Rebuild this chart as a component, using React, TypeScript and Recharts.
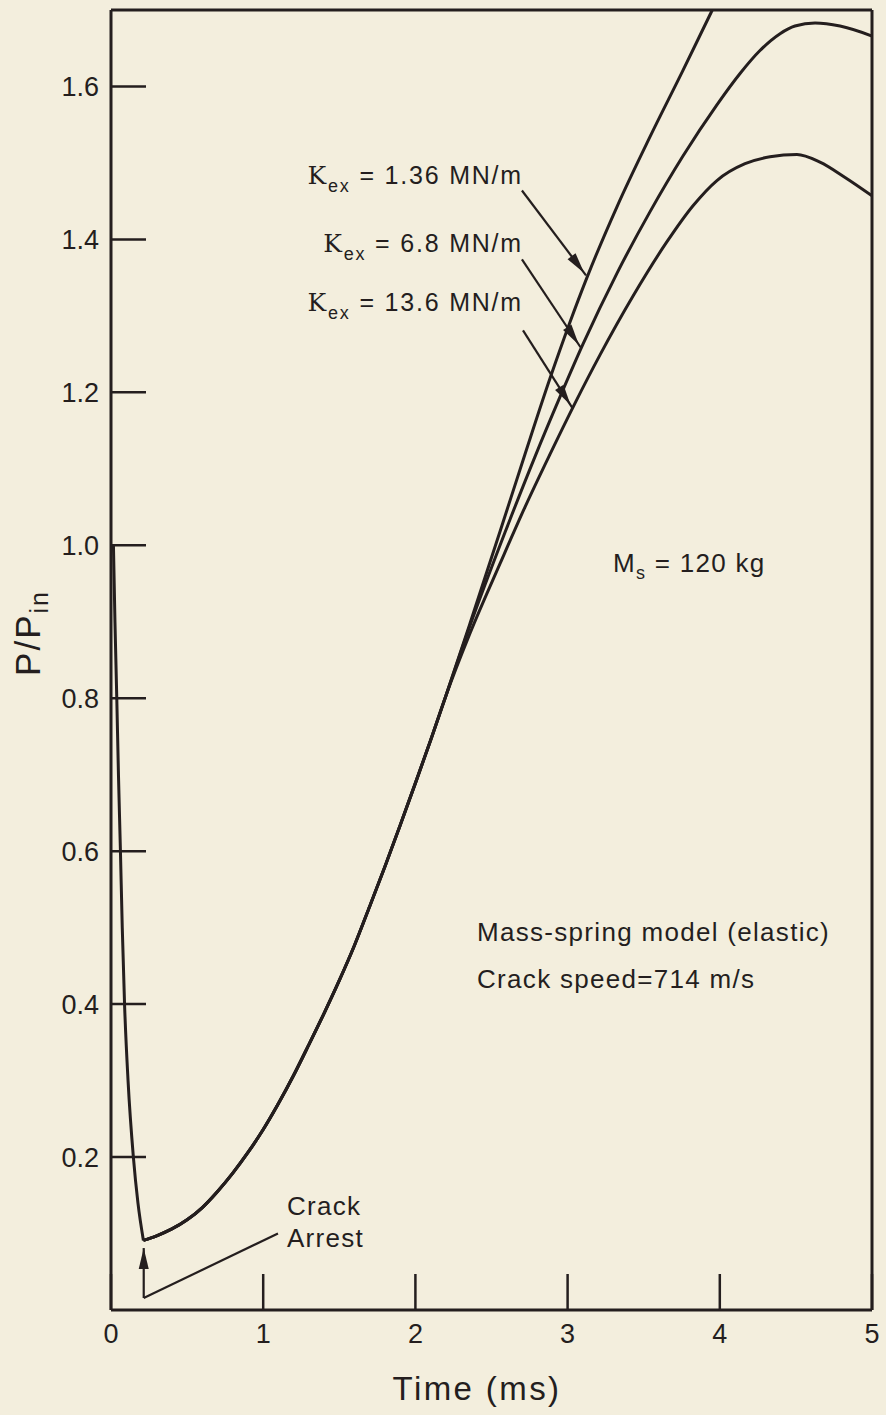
import React from 'react';
import { LineChart, Line, XAxis, YAxis, ReferenceLine, ReferenceDot } from 'recharts';

const INK = '#241e1e';
const PAPER = '#f3eedd';
const FONT = '"Liberation Sans", Arial, Helvetica, sans-serif';
const K_FONT = '"DejaVu Serif", "Liberation Serif", serif';

// ---- axis ticks ----
const xTicks = [0, 1, 2, 3, 4, 5];
const xInnerTicks = [1, 2, 3, 4];
const yTicks = [0.2, 0.4, 0.6, 0.8, 1.0, 1.2, 1.4, 1.6];

// ---- data (time in ms, P/Pin) ----
const dropPhase = [
  { t: 0.016, p: 1.0 },
  { t: 0.026, p: 0.9 },
  { t: 0.038, p: 0.8 },
  { t: 0.049, p: 0.7 },
  { t: 0.062, p: 0.6 },
  { t: 0.074, p: 0.5 },
  { t: 0.089, p: 0.4 },
  { t: 0.112, p: 0.3 },
  { t: 0.147, p: 0.2 },
  { t: 0.177, p: 0.14 },
  { t: 0.213, p: 0.091 },
];

const commonRise = [
  { t: 0.213, p: 0.091 },
  { t: 0.3, p: 0.097 },
  { t: 0.4, p: 0.106 },
  { t: 0.5, p: 0.118 },
  { t: 0.6, p: 0.134 },
  { t: 0.7, p: 0.155 },
  { t: 0.8, p: 0.179 },
  { t: 0.9, p: 0.206 },
  { t: 1.0, p: 0.236 },
  { t: 1.1, p: 0.27 },
  { t: 1.2, p: 0.307 },
  { t: 1.3, p: 0.347 },
  { t: 1.4, p: 0.388 },
  { t: 1.5, p: 0.431 },
  { t: 1.6, p: 0.477 },
  { t: 1.7, p: 0.528 },
  { t: 1.8, p: 0.58 },
  { t: 1.9, p: 0.634 },
  { t: 2.0, p: 0.689 },
  { t: 2.1, p: 0.745 },
  { t: 2.2, p: 0.803 },
];

const kex1_36 = [
  { t: 2.359, p: 0.898 },
  { t: 2.556, p: 1.018 },
  { t: 2.72, p: 1.119 },
  { t: 2.884, p: 1.218 },
  { t: 3.016, p: 1.292 },
  { t: 3.127, p: 1.35 },
  { t: 3.325, p: 1.443 },
  { t: 3.541, p: 1.534 },
  { t: 3.758, p: 1.621 },
  { t: 3.946, p: 1.698 },
  { t: 4.02, p: 1.728 },
];

const kex6_8 = [
  { t: 2.359, p: 0.895 },
  { t: 2.589, p: 1.017 },
  { t: 2.786, p: 1.116 },
  { t: 2.95, p: 1.194 },
  { t: 3.101, p: 1.263 },
  { t: 3.325, p: 1.356 },
  { t: 3.541, p: 1.436 },
  { t: 3.758, p: 1.509 },
  { t: 3.981, p: 1.576 },
  { t: 4.133, p: 1.617 },
  { t: 4.264, p: 1.647 },
  { t: 4.396, p: 1.669 },
  { t: 4.494, p: 1.679 },
  { t: 4.626, p: 1.683 },
  { t: 4.79, p: 1.679 },
  { t: 5.0, p: 1.666 },
];

const kex13_6 = [
  { t: 2.359, p: 0.885 },
  { t: 2.556, p: 0.976 },
  { t: 2.72, p: 1.05 },
  { t: 2.884, p: 1.119 },
  { t: 3.049, p: 1.186 },
  { t: 3.213, p: 1.249 },
  { t: 3.43, p: 1.326 },
  { t: 3.653, p: 1.397 },
  { t: 3.824, p: 1.444 },
  { t: 3.981, p: 1.477 },
  { t: 4.166, p: 1.499 },
  { t: 4.33, p: 1.508 },
  { t: 4.507, p: 1.511 },
  { t: 4.658, p: 1.501 },
  { t: 4.823, p: 1.481 },
  { t: 5.0, p: 1.457 },
];

const series = [
  { name: 'Kex=1.36', data: [...commonRise, ...kex1_36] },
  { name: 'Kex=6.8', data: [...commonRise, ...kex6_8] },
  { name: 'Kex=13.6', data: [...commonRise, ...kex13_6] },
];

// ---- annotations (data coordinates) ----
const kLabels = [
  { value: '1.36', x: 2.707, y: 1.473 },
  { value: '6.8', x: 2.707, y: 1.384 },
  { value: '13.6', x: 2.707, y: 1.307 },
];

const kArrows = [
  { from: { x: 2.7, y: 1.464 }, to: { x: 3.121, y: 1.353 } },
  { from: { x: 2.7, y: 1.374 }, to: { x: 3.085, y: 1.259 } },
  { from: { x: 2.707, y: 1.281 }, to: { x: 3.03, y: 1.18 } },
];

const plainNotes = [
  { text: 'Mass-spring model (elastic)', x: 2.405, y: 0.4827 },
  { text: 'Crack speed=714 m/s', x: 2.405, y: 0.4214 },
  { text: 'Crack', x: 1.156, y: 0.124 },
  { text: 'Arrest', x: 1.156, y: 0.0822 },
];

const massNote = { x: 3.298, y: 0.965 };

const arrestArrow = { from: { x: 0.215, y: 0.0157 }, to: { x: 0.215, y: 0.081 } };
const arrestLeader = { from: { x: 0.215, y: 0.0157 }, to: { x: 1.097, y: 0.1 } };

const arrowShape = (tipInset: number) => (p: any) => {
  const { x1, y1, x2, y2 } = p;
  const dx = x2 - x1;
  const dy = y2 - y1;
  const L = Math.hypot(dx, dy) || 1;
  const ux = dx / L;
  const uy = dy / L;
  const tx = x2 - ux * tipInset;
  const ty = y2 - uy * tipInset;
  const len = 21;
  const hw = 5;
  const bx = tx - ux * len;
  const by = ty - uy * len;
  const pts = `${tx},${ty} ${bx - uy * hw},${by + ux * hw} ${bx + uy * hw},${by - ux * hw}`;
  return (
    <g>
      <line x1={x1} y1={y1} x2={x2} y2={y2} stroke={INK} strokeWidth={2.2} />
      <polygon points={pts} fill={INK} />
    </g>
  );
};

const plainLine = (p: any) => (
  <line x1={p.x1} y1={p.y1} x2={p.x2} y2={p.y2} stroke={INK} strokeWidth={2.2} />
);

const textStyle = {
  fontFamily: FONT,
  fontSize: 26,
  letterSpacing: 1.3,
  fill: INK,
} as const;

export default function App() {
  return (
    <div
      style={{
        position: 'absolute',
        left: 0,
        top: 0,
        width: 886,
        height: 1415,
        background: PAPER,
        overflow: 'hidden',
      }}
    >
      <LineChart width={886} height={1415} margin={{ top: 0, right: 0, bottom: 0, left: 0 }}>
        <XAxis
          dataKey="t"
          type="number"
          domain={[0, 5]}
          ticks={xTicks}
          interval={0}
          allowDataOverflow
          height={105}
          axisLine={{ stroke: INK, strokeWidth: 3 }}
          tickLine={{ stroke: INK, strokeWidth: 2.5 }}
          tickSize={-36}
          tickMargin={50}
          tick={{ fill: INK, fontSize: 27, fontFamily: FONT }}
          label={{
            content: () => (
              <text
                x={477}
                y={1400}
                textAnchor="middle"
                style={{ fontFamily: FONT, fontSize: 33, letterSpacing: 2.4, fill: INK }}
              >
                Time (ms)
              </text>
            ),
          }}
        />
        <XAxis
          xAxisId="top"
          orientation="top"
          type="number"
          domain={[0, 5]}
          ticks={xInnerTicks}
          interval={0}
          allowDataOverflow
          height={10}
          axisLine={{ stroke: INK, strokeWidth: 3 }}
          tickLine={{ stroke: INK, strokeWidth: 2.5 }}
          tickSize={-34}
          tick={false}
        />
        <YAxis
          type="number"
          domain={[0, 1.7]}
          ticks={yTicks}
          interval={0}
          allowDataOverflow
          width={111}
          axisLine={{ stroke: INK, strokeWidth: 3 }}
          tickLine={{ stroke: INK, strokeWidth: 2.5 }}
          tickSize={-35}
          tickMargin={47}
          tickFormatter={(v: number) => v.toFixed(1)}
          tick={{ fill: INK, fontSize: 27, fontFamily: FONT }}
          label={{
            content: () => (
              <text
                x={40}
                y={633}
                textAnchor="middle"
                transform="rotate(-90, 40, 633)"
                style={{ fontFamily: FONT, fontSize: 35, letterSpacing: 2, fill: INK }}
              >
                P/P
                <tspan dy={8} fontSize={25}>
                  in
                </tspan>
              </text>
            ),
          }}
        />
        <YAxis
          yAxisId="right"
          orientation="right"
          type="number"
          domain={[0, 1.7]}
          ticks={yTicks}
          interval={0}
          allowDataOverflow
          width={14}
          axisLine={{ stroke: INK, strokeWidth: 3 }}
          tickLine={{ stroke: INK, strokeWidth: 2.5 }}
          tickSize={-37}
          tick={false}
        />

        <Line
          data={dropPhase}
          dataKey="p"
          type="monotone"
          stroke={INK}
          strokeWidth={3}
          dot={false}
          isAnimationActive={false}
        />
        {series.map((s) => (
          <Line
            key={s.name}
            name={s.name}
            data={s.data}
            dataKey="p"
            type="monotone"
            stroke={INK}
            strokeWidth={3}
            dot={false}
            isAnimationActive={false}
          />
        ))}

        {kArrows.map((a, i) => (
          <ReferenceLine
            key={`ka${i}`}
            segment={[a.from, a.to]}
            ifOverflow="visible"
            shape={arrowShape(3)}
          />
        ))}
        <ReferenceLine
          segment={[arrestArrow.from, arrestArrow.to]}
          ifOverflow="visible"
          shape={arrowShape(0)}
        />
        <ReferenceLine
          segment={[arrestLeader.from, arrestLeader.to]}
          ifOverflow="visible"
          shape={plainLine}
        />

        {kLabels.map((k, i) => (
          <ReferenceDot
            key={`kl${i}`}
            x={k.x}
            y={k.y}
            r={0}
            ifOverflow="visible"
            shape={(p: any) => (
              <text
                x={p.cx}
                y={p.cy}
                textAnchor="end"
                style={{ fontFamily: FONT, fontSize: 25, letterSpacing: 1.8, fill: INK }}
              >
                <tspan fontFamily={K_FONT} style={{ fontFamily: K_FONT }}>
                  K
                </tspan>
                <tspan dy={8} fontSize={18}>
                  ex
                </tspan>
                <tspan dy={-8}>{` = ${k.value} MN/m`}</tspan>
              </text>
            )}
          />
        ))}

        <ReferenceDot
          x={massNote.x}
          y={massNote.y}
          r={0}
          ifOverflow="visible"
          shape={(p: any) => (
            <text x={p.cx} y={p.cy} style={textStyle}>
              M
              <tspan dy={7} fontSize={18}>
                s
              </tspan>
              <tspan dy={-7}> = 120 kg</tspan>
            </text>
          )}
        />

        {plainNotes.map((n, i) => (
          <ReferenceDot
            key={`pn${i}`}
            x={n.x}
            y={n.y}
            r={0}
            ifOverflow="visible"
            shape={(p: any) => (
              <text x={p.cx} y={p.cy} style={textStyle}>
                {n.text}
              </text>
            )}
          />
        ))}
      </LineChart>
    </div>
  );
}
